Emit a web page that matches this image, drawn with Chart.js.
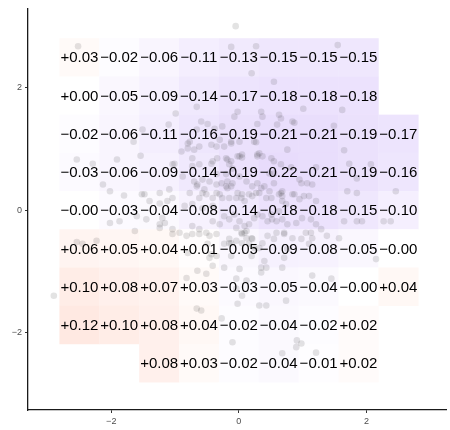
<!DOCTYPE html>
<html>
<head>
<meta charset="utf-8">
<script src="https://cdn.jsdelivr.net/npm/chart.js@4.4.1/dist/chart.umd.min.js"></script>
<style>
  html, body { margin: 0; padding: 0; background: #fff; }
  #wrap { width: 450px; height: 430px; position: relative; }
</style>
</head>
<body>
<div id="wrap"><canvas id="chart"></canvas></div>
<script>
// ---- data ----
const xCenters = [-2.5, -1.875, -1.25, -0.625, 0, 0.625, 1.25, 1.875, 2.5];
const yCenters = [2.5, 1.875, 1.25, 0.625, 0, -0.625, -1.25, -1.875, -2.5];
// one row per yCenter, one column per xCenter (null = no cell)
const cellValues = [
  [0.03, -0.02, -0.06, -0.11, -0.13, -0.15, -0.15, -0.15, null],
  [0.00, -0.05, -0.09, -0.14, -0.17, -0.18, -0.18, -0.18, null],
  [-0.02, -0.06, -0.11, -0.16, -0.19, -0.21, -0.21, -0.19, -0.17],
  [-0.03, -0.06, -0.09, -0.14, -0.19, -0.22, -0.21, -0.19, -0.16],
  [-0.00, -0.03, -0.04, -0.08, -0.14, -0.18, -0.18, -0.15, -0.10],
  [0.06, 0.05, 0.04, 0.01, -0.05, -0.09, -0.08, -0.05, -0.00],
  [0.10, 0.08, 0.07, 0.03, -0.03, -0.05, -0.04, -0.00, 0.04],
  [0.12, 0.10, 0.08, 0.04, -0.02, -0.04, -0.02, 0.02, null],
  [null, null, 0.08, 0.03, -0.02, -0.04, -0.01, 0.02, null]
];
const xTicks = [-2, 0, 2];
const yTicks = [-2, 0, 2];

// scatter cloud
const pointsX = [
  -2.52,-0.66,-0.99,-1.51,-1.10,-1.65,-0.80,-0.59,-0.49,-0.66,-0.38,-0.77,-0.62,-0.43,-2.54,-2.29,-1.91,-1.54,-2.13,-2.02,
  -1.04,-0.88,-0.62,-0.41,-0.34,-0.70,-0.46,-0.35,-0.66,-1.80,-1.52,-1.48,-1.40,-1.24,-1.12,-1.04,-0.77,-0.62,-0.51,-0.41,
  -0.30,-0.85,-0.73,-0.57,-0.41,
  -0.05,-0.12,0.27,0.20,0.55,1.55,1.01,0.63,0.66,0.35,-0.02,-0.07,0.87,1.62,1.49,1.65,0.27,-0.12,-0.20,-0.02,
  0.05,0.29,0.37,0.55,0.66,0.82,0.98,1.07,1.21,1.73,1.85,2.07,2.46,1.70,1.85,-0.12,-0.20,-0.18,-0.10,-0.18,
  -0.02,0.04,0.09,0.51,0.66,0.68,0.87,1.02,0.35,
  -2.90,-2.54,-2.45,-2.23,-1.63,-1.04,-0.93,-0.82,-1.24,-0.73,-0.62,-0.51,-0.35,-0.80,-0.82,-0.66,-0.59,-0.51,-0.41,-0.35,
  -0.27,-2.02,-1.87,-1.60,-1.45,
  -0.15,-0.12,0.09,0.20,0.37,0.45,0.71,0.76,0.71,0.98,1.10,1.13,1.29,1.38,1.57,1.65,1.85,1.93,2.15,2.27,
  2.38,0.35,0.05,-0.02,0.32,0.43,0.74,1.15,1.45,-0.10,0.91,0.98,0.90,0.68,1.21,-0.04,
  -0.26,0.60,-0.80,-0.90,-0.70,-0.35,-0.12,-0.23,0.01,0.29,0.01,-0.73,-1.01,-0.43,-0.15,-0.10,0.48,0.55,-0.65,-0.57,
  -0.54,-0.35,-0.27,-0.20,0.12,0.21,0.29,0.40,0.48,0.16,0.27,0.43,0.63,0.68,-1.09,-1.24,
  -0.57,-0.35,-0.26,-0.15,-0.23,-0.15,-0.07,0.01,0.09,0.16,0.12,0.05,0.24,0.29,0.37,0.45,0.52,0.63,0.74,-1.24,
  -1.16,-1.04,-0.73,-0.62,-0.46,-0.49,-0.15,-0.04,0.21,0.24,0.55,0.40,0.43,0.01,-0.04,-0.23,-0.43,-0.46,0.68,0.20,
  0.35,-0.65,0.12,
  -1.20,-0.04,0.05,0.21,0.32,0.68,0.84,0.95,1.10,1.21,0.51,0.59,0.68,0.76,0.90,0.99,1.13,1.21,0.59,0.71,
  0.84,1.05,1.15,-0.04,0.04,0.12,0.05,0.16,-0.12,-0.23,0.32,-0.41,-0.30,
  0.37,0.84,0.29,-0.73,-0.18,0.05,0.32,-0.30,0.24,0.51,0.55,0.95,-0.12,0.01,1.15,0.76
];
const pointsY = [
  2.68,1.69,1.58,1.32,1.40,1.12,1.01,1.45,1.41,1.32,1.33,1.12,1.04,1.07,0.83,0.76,0.83,0.89,0.42,0.31,
  0.75,0.55,0.75,0.80,0.85,0.47,0.47,0.59,0.39,0.24,0.26,0.26,0.15,0.11,0.15,0.20,0.28,0.20,0.26,0.20,
  0.26,0.07,0.10,0.03,0.07,
  3.01,2.67,2.68,2.24,2.10,2.70,1.66,1.56,1.50,1.61,1.61,1.53,1.43,1.64,1.38,0.98,1.11,1.12,0.85,0.88,
  0.86,0.88,0.88,0.80,0.75,0.70,0.44,0.44,0.70,0.76,0.52,0.75,0.31,0.31,0.28,0.80,0.59,0.47,0.44,0.36,
  0.28,0.20,0.15,0.20,0.28,0.15,0.26,0.23,0.36,
  -1.40,-0.52,-0.55,-0.50,-0.34,-0.31,-0.37,-0.42,-0.29,-0.26,-0.31,-0.37,-0.39,-0.70,-1.11,-1.61,-1.64,-1.04,-0.91,-0.75,
  -1.77,-0.21,-0.18,-0.10,-0.15,
  -0.54,-0.75,-0.37,-0.46,-0.54,-0.42,-0.37,-0.63,-0.78,-0.47,-0.55,-0.37,-0.31,-0.42,-0.46,-0.18,-0.18,-0.18,-0.80,-0.18,
  -0.18,-0.94,-1.40,-1.53,-1.56,-1.56,-1.48,-1.07,-1.12,-2.16,-2.13,-2.18,-2.24,-2.34,-2.33,-1.28,
  1.37,1.40,1.09,0.96,0.99,1.04,1.09,1.04,1.12,0.91,0.88,0.72,0.76,0.76,0.75,0.68,0.60,0.60,0.42,0.50,
  0.34,0.42,0.44,0.39,0.47,0.39,0.44,0.39,0.31,0.26,0.28,0.20,0.26,0.31,0.34,0.28,
  0.28,0.28,0.20,0.20,-0.10,-0.15,-0.07,-0.18,-0.26,-0.23,-0.34,-0.39,-0.13,-0.07,-0.10,-0.18,-0.15,-0.02,0.10,-0.23,
  -0.21,-0.39,-0.39,-0.39,-0.42,-0.55,-0.47,-0.50,-0.47,-0.62,-0.47,-0.83,-0.94,-0.96,-1.12,-0.94,-0.72,-0.78,-0.94,-0.75,
  -1.02,-0.99,-1.15,
  -0.13,0.20,0.26,0.23,0.28,0.23,0.26,0.18,0.23,0.15,-0.07,-0.18,-0.15,-0.23,-0.21,-0.13,-0.15,-0.23,-0.37,-0.39,
  -0.46,-0.37,-0.46,-0.29,-0.37,-0.46,-0.54,-0.55,-0.54,-0.55,-0.62,-0.18,-0.23,
  1.53,1.45,1.41,0.85,0.83,0.91,0.93,1.15,1.12,0.85,0.44,0.50,0.39,0.55,0.42,0.99
];

// ---- helpers ----
const CELL = 0.625;
const FONT = '"Liberation Sans", Arial, Helvetica, sans-serif';

function fmtTick(v) {
  return v < 0 ? '\u2212' + Math.abs(v) : String(v);
}

function fmtCell(v) {
  const neg = v < 0 || Object.is(v, -0);
  return (neg ? '\u2212' : '+') + Math.abs(v).toFixed(2);
}

function cellColor(v) {
  const t = Math.min(1, Math.abs(v) / 0.22);
  const end = v < 0 ? [232, 220, 252] : [255, 215, 202];
  const c = end.map(e => Math.round(255 + (e - 255) * t));
  return `rgb(${c[0]},${c[1]},${c[2]})`;
}

const tilePlugin = {
  id: 'tiles',
  beforeDatasetsDraw(chart) {
    const { ctx, scales: { x, y }, chartArea } = chart;
    ctx.save();
    ctx.beginPath();
    ctx.rect(chartArea.left, chartArea.top, chartArea.right - chartArea.left, chartArea.bottom - chartArea.top);
    ctx.clip();
    yCenters.forEach((yc, r) => {
      xCenters.forEach((xc, c) => {
        const v = cellValues[r][c];
        if (v === null) return;
        const x0 = x.getPixelForValue(xc - CELL / 2);
        const x1 = x.getPixelForValue(xc + CELL / 2);
        const y0 = y.getPixelForValue(yc + CELL / 2);
        const y1 = y.getPixelForValue(yc - CELL / 2);
        ctx.fillStyle = cellColor(v);
        ctx.fillRect(x0, y0, x1 - x0 + 0.3, y1 - y0 + 0.3);
      });
    });
    ctx.restore();
  },
  afterDatasetsDraw(chart) {
    const { ctx, scales: { x, y } } = chart;
    ctx.save();
    ctx.fillStyle = '#000';
    ctx.font = `15px ${FONT}`;
    ctx.textAlign = 'center';
    ctx.textBaseline = 'middle';
    yCenters.forEach((yc, r) => {
      xCenters.forEach((xc, c) => {
        const v = cellValues[r][c];
        if (v === null) return;
        ctx.fillText(fmtCell(v), x.getPixelForValue(xc), y.getPixelForValue(yc) + 1);
      });
    });
    ctx.restore();
  }
};

const axisCommon = {
  type: 'linear',
  grid: { drawOnChartArea: false, tickLength: 3, color: '#333', tickWidth: 1 },
  border: { display: true, color: '#1a1a1a', width: 1.3 },
  ticks: { font: { size: 9, family: FONT }, color: '#4d4d4d', padding: 3, maxRotation: 0, callback: v => fmtTick(v) }
};

new Chart(document.getElementById('chart').getContext('2d'), {
  type: 'scatter',
  data: {
    datasets: [{
      data: pointsX.map((px, i) => ({ x: px, y: pointsY[i] })),
      backgroundColor: 'rgba(60,60,60,0.14)',
      borderWidth: 0,
      pointRadius: 3.3,
      pointHoverRadius: 3.3
    }]
  },
  options: {
    responsive: true,
    maintainAspectRatio: false,
    animation: false,
    events: [],
    layout: { padding: { top: 6, right: 2, left: 0, bottom: 0 } },
    plugins: { legend: { display: false }, tooltip: { enabled: false } },
    scales: {
      x: {
        ...axisCommon,
        min: -3.305, max: 3.258,
        afterBuildTicks: s => { s.ticks = xTicks.map(v => ({ value: v })); },
        afterFit: s => { s.height = 20; }
      },
      y: {
        ...axisCommon,
        min: -3.268, max: 3.30,
        afterBuildTicks: s => { s.ticks = yTicks.map(v => ({ value: v })); },
        afterFit: s => { s.width = 28; }
      }
    }
  },
  plugins: [tilePlugin]
});
</script>
</body>
</html>
